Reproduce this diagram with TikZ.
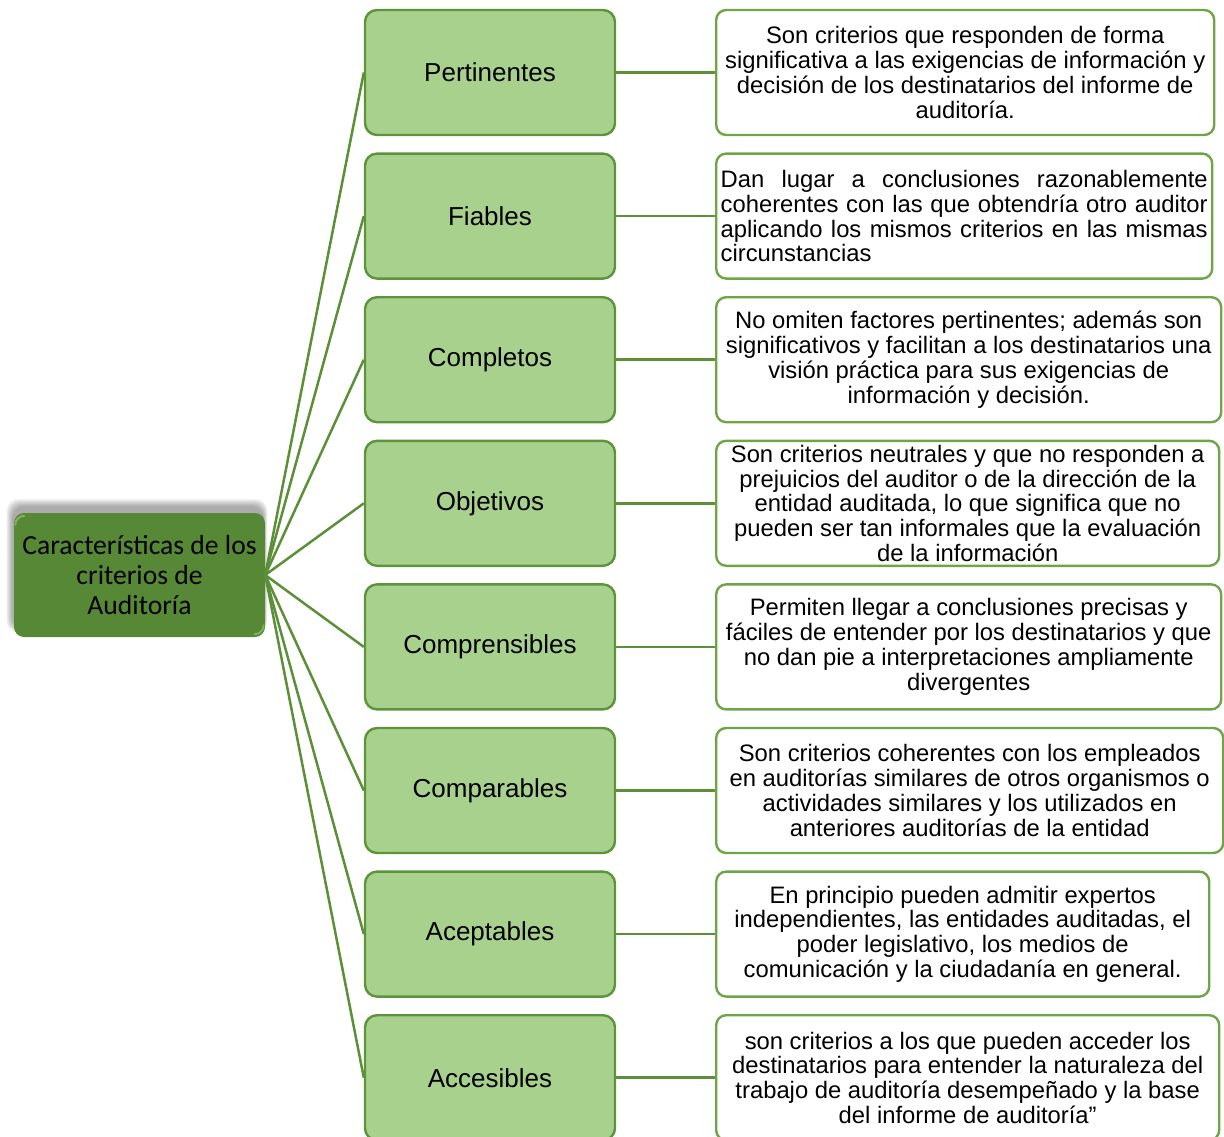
\documentclass[tikz,border=0pt]{standalone}
\usepackage{fontspec}
\setmainfont{Liberation Sans}
\newfontfamily\rootfont{Carlito}
\definecolor{rootgreen}{HTML}{568835}
\definecolor{rootlight}{HTML}{8DBB6A}
\definecolor{midfill}{HTML}{A9D18E}
\definecolor{midline}{HTML}{5E9439}
\definecolor{descline}{HTML}{6FA546}
\definecolor{linkgreen}{HTML}{5B9038}
\begin{document}
\begin{tikzpicture}[x=1pt,y=-1pt,
  rootbox/.style={fill=rootgreen, rounded corners=10pt, minimum width=251pt,
    minimum height=124pt, inner sep=0pt, align=center,
    font=\rootfont\fontsize{27.6}{30}\selectfont},
  midbox/.style={draw=midline, line width=2.4pt, fill=midfill, rounded corners=12pt,
    minimum width=250pt, minimum height=125pt, inner sep=0pt,
    font=\fontsize{26}{30}\selectfont},
  descbox/.style={draw=descline, line width=2.4pt, fill=white, rounded corners=10pt,
    minimum height=125pt, inner sep=0pt, anchor=west, align=center,
    font=\fontsize{23.8}{24.8}\selectfont},
  link/.style={draw=linkgreen, line width=2.5pt}]
\useasboundingbox (0,0) rectangle (1224,1137);

% soft shadow behind the root box, cast upwards
\foreach \i in {1,...,11}
  \fill[black, opacity=0.035, rounded corners=12pt]
    (13-\i*0.6, 507-\i*0.75) rectangle (263+\i*0.4, 628+\i*0.4);

\node[rootbox] (root) at (139.5,575) {Características de los\\criterios de\\Auditoría};

% bevel highlights on two corners of the root box
\draw[rootlight, line width=2pt, line cap=round, opacity=0.8]
  ([xshift=1.5pt,yshift=-12pt]root.north west) arc[start angle=180, end angle=270, x radius=9pt, y radius=-9pt];
\draw[rootlight, line width=2pt, line cap=round, opacity=0.8]
  ([xshift=-1.5pt,yshift=12pt]root.south east) arc[start angle=0, end angle=90, x radius=9pt, y radius=-9pt];

% second level
\node[midbox] (m1) at (490,72.5)  {Pertinentes};
\node[midbox] (m2) at (490,216.1) {Fiables};
\node[midbox] (m3) at (490,359.7) {Completos};
\node[midbox] (m4) at (490,503.3) {Objetivos};
\node[midbox] (m5) at (490,646.9) {Comprensibles};
\node[midbox] (m6) at (490,790.5) {Comparables};
\node[midbox] (m7) at (490,934.1) {Aceptables};
\node[midbox] (m8) at (490,1077.7){Accesibles};

% descriptions
\node[descbox, minimum width=498pt] (d1) at (715,72.5)
  {Son criterios que responden de forma\\significativa a las exigencias de información y\\decisión de los destinatarios del informe de\\auditoría.};
\node[descbox, minimum width=496pt, align=left] (d2) at (715,216.1)
  {\makebox[487pt][s]{Dan lugar a conclusiones razonablemente}\\
   \makebox[487pt][s]{coherentes con las que obtendría otro auditor}\\
   \makebox[487pt][s]{aplicando los mismos criterios en las mismas}\\
   circunstancias};
\node[descbox, minimum width=505pt] (d3) at (715,359.7)
  {No omiten factores pertinentes; además son\\significativos y facilitan a los destinatarios una\\visión práctica para sus exigencias de\\información y decisión.};
\node[descbox, minimum width=503pt] (d4) at (715,503.3)
  {Son criterios neutrales y que no responden a\\prejuicios del auditor o de la dirección de la\\entidad auditada, lo que significa que no\\pueden ser tan informales que la evaluación\\de la información};
\node[descbox, minimum width=505pt] (d5) at (715,646.9)
  {Permiten llegar a conclusiones precisas y\\fáciles de entender por los destinatarios y que\\no dan pie a interpretaciones ampliamente\\divergentes};
\node[descbox, minimum width=507pt] (d6) at (715,790.5)
  {Son criterios coherentes con los empleados\\en auditorías similares de otros organismos o\\actividades similares y los utilizados en\\anteriores auditorías de la entidad};
\node[descbox, minimum width=493pt] (d7) at (715,934.1)
  {En principio pueden admitir expertos\\independientes, las entidades auditadas, el\\poder legislativo, los medios de\\comunicación y la ciudadanía en general.};
\node[descbox, minimum width=503pt] (d8) at (715,1077.7)
  {son criterios a los que pueden acceder los\\destinatarios para entender la naturaleza del\\trabajo de auditoría desempeñado y la base\\del informe de auditoría”};

% connectors
\foreach \k in {1,...,8} {
  \draw[link] (root.east) -- (m\k.west);
  \draw[link] (m\k.east) -- (d\k.west);
}
\end{tikzpicture}
\end{document}
